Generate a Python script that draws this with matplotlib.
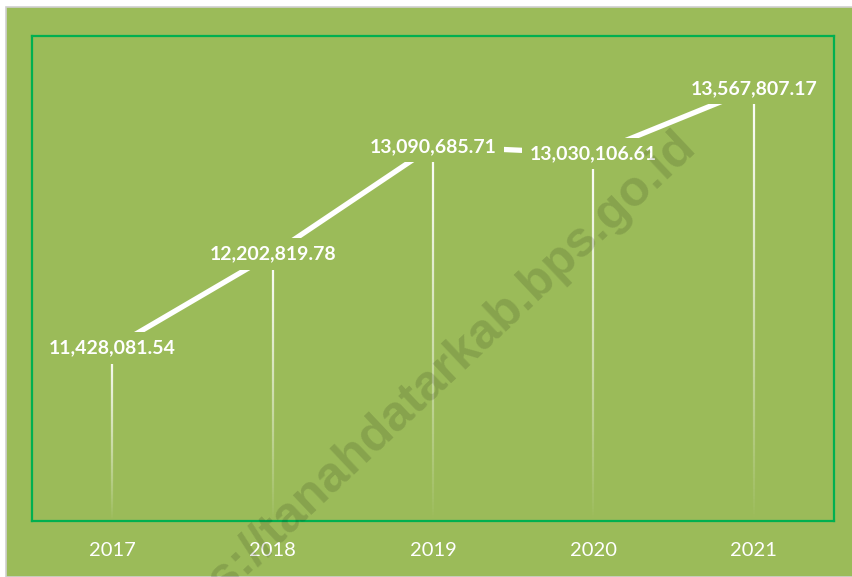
import numpy as np
import matplotlib
matplotlib.use("Agg")
import matplotlib.pyplot as plt
from matplotlib.patches import Rectangle
from matplotlib.collections import LineCollection

years = ["2017", "2018", "2019", "2020", "2021"]
values = [11428081.54, 12202819.78, 13090685.71, 13030106.61, 13567807.17]
y_min, y_max = 10_000_000, 14_000_000

BG = "#9BBB59"
BORDER = "#00B050"
W, H = 853, 577

fig = plt.figure(figsize=(W / 100, H / 100), dpi=100)
fig.patch.set_facecolor("white")
fig.patches.append(Rectangle((6 / W, 0), 1 - 6 / W, 1 - 7 / H, transform=fig.transFigure,
                             facecolor=BG, edgecolor="#D0D0D0", linewidth=1.2, zorder=-10))

ax = fig.add_axes([32 / W, (H - 521) / H, 802 / W, 485 / H])
ax.set_zorder(1)
ax.set_facecolor(BG)
for s in ax.spines.values():
    s.set_color(BORDER)
    s.set_linewidth(1.6)

x = np.arange(len(years))
ax.set_xlim(-0.5, len(years) - 0.5)
ax.set_ylim(y_min, y_max)

# drop lines with fading gradient
n = 120
for xi, v in zip(x, values):
    ys = np.linspace(y_min, v, n + 1)
    segs = [[(xi, ys[k]), (xi, ys[k + 1])] for k in range(n)]
    alphas = np.linspace(0.0, 1.0, n) ** 0.9
    cols = [(1, 1, 1, a) for a in alphas]
    ax.add_collection(LineCollection(segs, colors=cols, linewidths=1.6, zorder=2))

ax.plot(x, values, color="white", linewidth=3.8, solid_capstyle="butt", zorder=2)

for xi, v in zip(x, values):
    ax.text(xi, v, f"{v:,.2f}", ha="center", va="center", color="white",
            fontsize=14, fontweight="bold", family="Lato", zorder=3,
            bbox=dict(boxstyle="square,pad=0.38", facecolor=BG, edgecolor="none"))

ax.set_xticks(x)
ax.set_xticklabels(years, fontsize=14.5, color="white", family="Lato")
ax.tick_params(axis="x", length=0, pad=15)
ax.set_yticks([])

fig.text(418 / W, 1 - 394 / H, "https://tanahdatarkab.bps.go.id", rotation=43.3,
         rotation_mode="anchor", ha="center", va="center", fontsize=36,
         fontweight="bold", family="Liberation Sans", color="black", alpha=0.13, zorder=10)

fig.savefig("out.png", dpi=100, facecolor=fig.get_facecolor())
